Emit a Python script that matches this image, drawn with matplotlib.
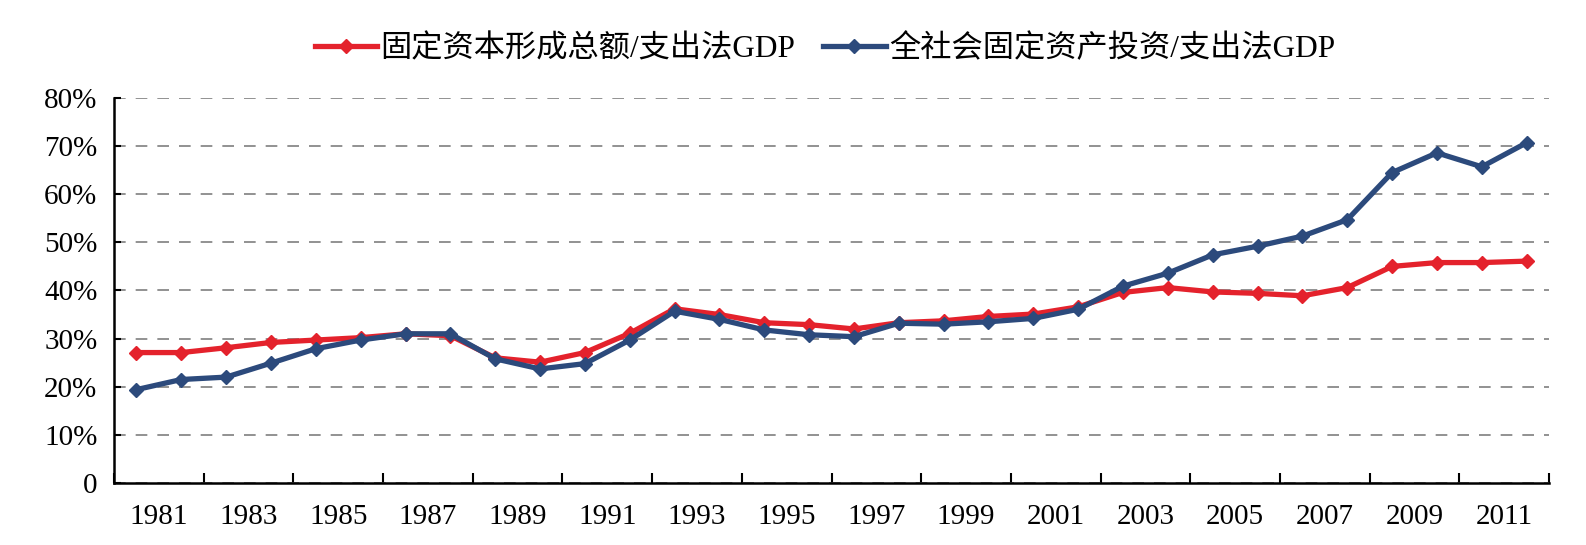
import numpy as np
import matplotlib
matplotlib.use('Agg')
import matplotlib.pyplot as plt
from matplotlib.ticker import FixedLocator, NullFormatter

plt.rcParams['font.family'] = ['Liberation Serif', 'Noto Sans CJK SC']

years = list(range(1981, 2013))
# 固定资本形成总额/支出法GDP (%)
gfcf = [27.1, 27.1, 28.1, 29.2, 29.7, 30.2, 31.0, 30.6, 26.0, 25.1,
        27.1, 31.1, 36.2, 35.0, 33.3, 32.9, 32.0, 33.3, 33.7, 34.6,
        35.1, 36.6, 39.6, 40.6, 39.7, 39.4, 38.9, 40.6, 45.0, 45.8,
        45.8, 46.1]
# 全社会固定资产投资/支出法GDP (%)
fai = [19.4, 21.5, 22.0, 24.9, 27.9, 29.7, 31.0, 31.0, 25.8, 23.7,
       24.8, 29.7, 35.7, 34.0, 31.8, 30.8, 30.4, 33.2, 33.0, 33.5,
       34.2, 36.1, 40.9, 43.6, 47.4, 49.2, 51.3, 54.7, 64.5, 68.6,
       65.7, 70.7]
labels = ['固定资本形成总额/支出法GDP', '全社会固定资产投资/支出法GDP']
yticks = [0, 10, 20, 30, 40, 50, 60, 70, 80]
ytick_labels = ['0', '10%', '20%', '30%', '40%', '50%', '60%', '70%', '80%']

red = '#E4222C'
blue = '#2C4A7C'

fig = plt.figure(figsize=(15.86, 5.45), dpi=100)
ax = fig.add_axes([0.0719, 0.1138, 0.9048, 0.7064])

x = np.arange(len(years))
ax.plot(x, gfcf, color=red, lw=3.8, marker='D', ms=7, label=labels[0])
ax.plot(x, fai, color=blue, lw=3.8, marker='D', ms=7, label=labels[1])

ax.set_xlim(-0.5, len(years) - 0.5)
ax.set_ylim(0, 80)

# tick marks between pairs of years, labels in the middle of each pair
ax.xaxis.set_major_locator(FixedLocator(np.arange(-0.5, len(years), 2)))
ax.xaxis.set_major_formatter(NullFormatter())
ax.xaxis.set_minor_locator(FixedLocator(np.arange(0.5, len(years), 2)))
ax.set_xticklabels([str(y) for y in years[::2]], minor=True)
ax.tick_params(axis='x', which='major', direction='in', length=7, width=1.5)
ax.tick_params(axis='x', which='minor', length=0, pad=15, labelsize=21)

ax.set_yticks(yticks)
ax.set_yticklabels(ytick_labels)
ax.tick_params(axis='y', direction='in', length=5, width=1.5, labelsize=21, pad=12)

ax.yaxis.grid(True, linestyle=(0, (7, 6)), color='#7f7f7f', lw=1.2)
ax.set_axisbelow(True)

for s in ['top', 'right']:
    ax.spines[s].set_visible(False)
for s in ['left', 'bottom']:
    ax.spines[s].set_linewidth(1.8)

fig.legend(loc='center', bbox_to_anchor=(0.52, 0.91), ncol=2, frameon=False,
           fontsize=22.5, handlelength=2.0, columnspacing=0.9, handletextpad=0.1)

plt.savefig('out.png', dpi=100)
